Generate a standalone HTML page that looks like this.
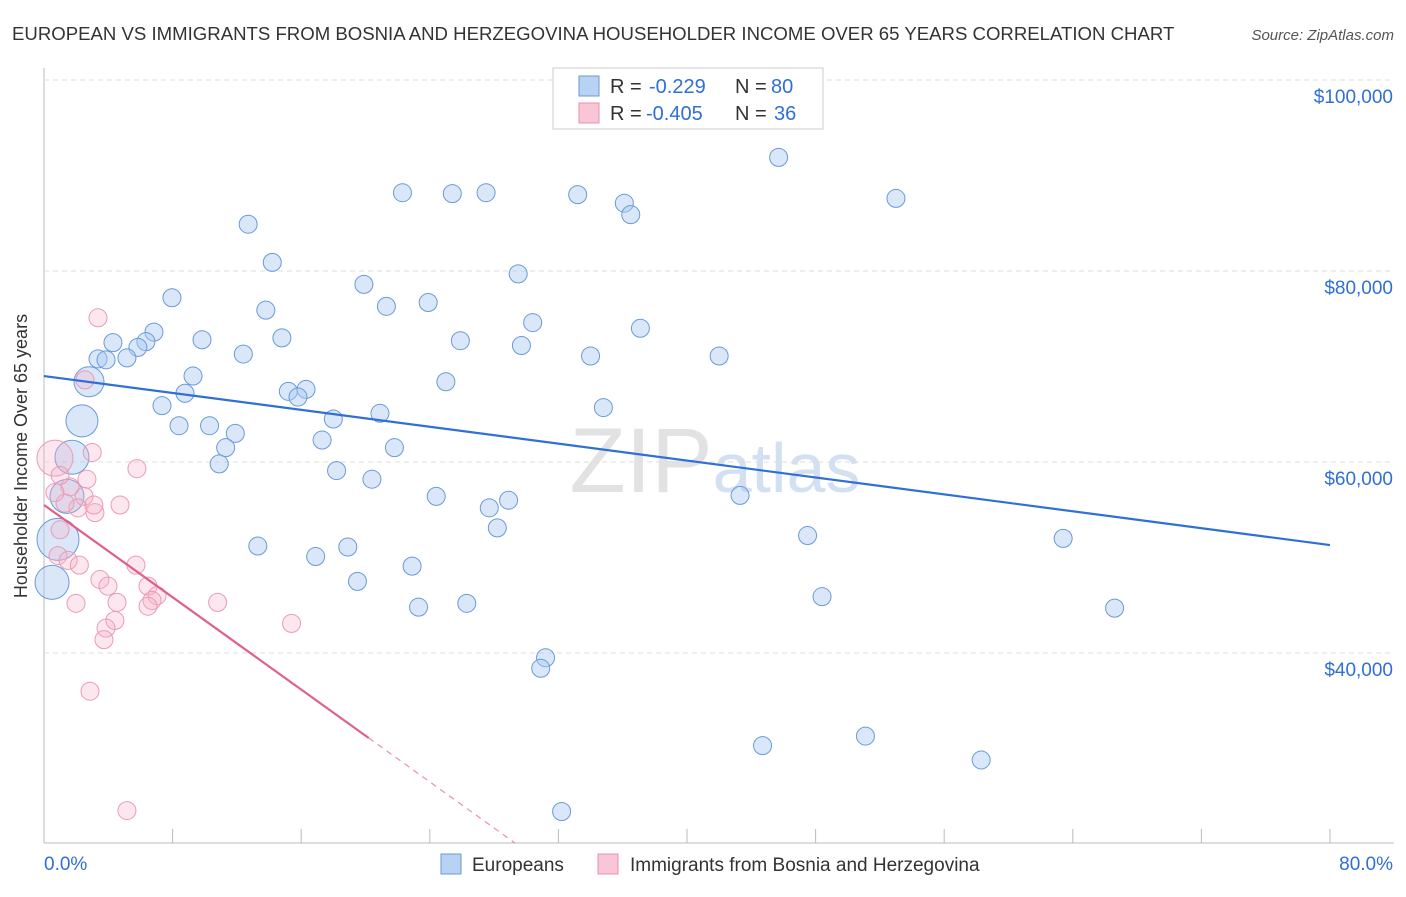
<!DOCTYPE html>
<html><head><meta charset="utf-8"><style>
body{margin:0;background:#fff;font-family:"Liberation Sans",sans-serif}
svg text{font-family:"Liberation Sans",sans-serif}
</style></head><body>
<svg id="c" width="1406" height="892" xmlns="http://www.w3.org/2000/svg">
<text x="12" y="40" font-size="18.6" fill="#333">EUROPEAN VS IMMIGRANTS FROM BOSNIA AND HERZEGOVINA HOUSEHOLDER INCOME OVER 65 YEARS CORRELATION CHART</text>
<text x="1394" y="40" font-size="15" fill="#555" text-anchor="end" font-style="italic">Source: ZipAtlas.com</text>
<text x="715" y="492" font-size="92" fill="#e2e2e2" text-anchor="middle" font-family="Liberation Serif">ZIP<tspan fill="#d3e0f2" font-family="Liberation Sans" font-size="70">atlas</tspan></text>
<g id="grid"></g><g id="pts"></g><g id="lines"></g>
<text x="27" y="456" font-size="18" fill="#333" text-anchor="middle" transform="rotate(-90 27 456)">Householder Income Over 65 years</text>
<g>
<rect x="553" y="68" width="270" height="61" fill="#fff" stroke="#ccc"/>
<rect x="579" y="76" width="20" height="20" fill="#b8d2f3" stroke="#6a9ad8"/>
<rect x="579" y="103" width="20" height="20" fill="#f8c6d6" stroke="#e890ab"/>
<text y="93" font-size="20" fill="#333"><tspan x="610">R =</tspan><tspan x="649" fill="#2f6fd6">-0.229</tspan><tspan x="735">N =</tspan><tspan x="771" fill="#2f6fd6">80</tspan></text>
<text y="120" font-size="20" fill="#333"><tspan x="610">R =</tspan><tspan x="646" fill="#2f6fd6">-0.405</tspan><tspan x="735">N =</tspan><tspan x="774" fill="#2f6fd6">36</tspan></text>
</g>
<g>
<rect x="441" y="854" width="20" height="20" fill="#b8d2f3" stroke="#6a9ad8"/>
<text x="472" y="871" font-size="19" fill="#333">Europeans</text>
<rect x="598" y="854" width="20" height="20" fill="#f8c6d6" stroke="#e890ab"/>
<text x="630" y="871" font-size="19" fill="#333">Immigrants from Bosnia and Herzegovina</text>
</g>
</svg>
<script>
const blueX=[45.7,22.3,25.4,27.5,33.2,36.1,36.5,53.0,12.7,14.2,29.5,19.9,7.96,13.8,21.3,23.9,30.4,37.1,6.84,9.83,14.8,25.9,29.7,6.34,4.29,5.84,3.36,3.86,5.16,12.4,34.0,42.0,2.8,9.27,25.0,8.77,15.2,16.3,15.8,7.34,20.9,34.8,18.0,2.36,8.4,10.3,11.9,17.3,1.74,11.3,21.8,10.9,18.2,20.4,24.4,28.9,43.3,27.7,28.2,1.43,47.5,63.4,13.3,18.9,0.87,16.9,22.9,19.5,0.5,48.4,26.3,23.3,66.6,31.2,30.9,44.7,51.1,58.3,32.2];
const blueY=[91.9,88.2,88.1,88.2,88.0,87.1,85.9,87.6,84.9,80.9,79.7,78.6,77.2,75.9,76.3,76.7,74.6,74.0,73.6,72.8,73.0,72.7,72.2,72.6,72.5,72.0,70.8,70.7,70.9,71.3,71.1,71.1,68.4,69.0,68.4,67.2,67.4,67.6,66.8,65.9,65.1,65.7,64.5,64.3,63.8,63.8,63.0,62.3,60.5,61.5,61.5,59.8,59.1,58.2,56.4,56.0,56.5,55.2,53.1,56.4,52.3,52.0,51.2,51.1,51.9,50.1,49.1,47.5,47.4,45.9,45.2,44.8,44.7,39.5,38.4,30.3,31.3,28.8,23.4];
const blueBig={32:15,43:16,48:17,59:17,64:21,68:17};
const pinkX=[3.36,2.55,3.0,5.78,0.68,2.67,2.49,1.62,1.0,4.73,3.17,2.11,1.31,3.1,1.0,0.87,1.5,2.2,3.48,5.72,3.98,6.47,7.03,6.72,1.99,4.54,10.8,6.47,4.41,15.4,3.86,3.73,2.86,5.16,0.68];
const pinkY=[75.1,68.6,61.0,59.3,60.4,58.2,56.4,57.4,58.6,55.5,54.7,55.2,55.7,55.5,52.9,50.2,49.7,49.2,47.7,49.2,47.0,47.0,46.0,45.5,45.2,45.3,45.3,44.9,43.4,43.1,42.6,41.4,36.0,23.5,56.8];
const pinkBig={4:18};
const yTicks=[40,60,80,100];
const yTickLabels=["$40,000","$60,000","$80,000","$100,000"];
const xTicks=[0,8,16,24,32,40,48,56,64,72,80];
const blueTrend=[[0,69.0],[80,51.3]];
const pinkTrend=[[0,55.5],[20.2,31.1],[29.3,20.1]];
const NS="http://www.w3.org/2000/svg";
const X=v=>44+v/80*1286, Y=v=>80+(100-v)*9.55;
function mk(t,a,p){const e=document.createElementNS(NS,t);for(const k in a)e.setAttribute(k,a[k]);p.appendChild(e);return e;}
const g=document.getElementById('grid');
const ax=mk('line',{x1:44,y1:68,x2:44,y2:843,stroke:'#bbb'},g);


const bx=mk('line',{x1:44,y1:843,x2:1394,y2:843,stroke:'#bbb'},g);


yTicks.forEach((v,i)=>{
 const l=mk('line',{x1:44,y1:Y(v),x2:1394,y2:Y(v),stroke:'#ddd','stroke-dasharray':'5,4'},g);
 
 
 const t=mk('text',{x:1393,y:Y(v)+23,'font-size':19,fill:'#2f6fd6','text-anchor':'end'},g);
 t.textContent=yTickLabels[i];
 
 
});
xTicks.forEach(v=>{
 const l=mk('line',{x1:X(v),y1:829,x2:X(v),y2:843,stroke:'#bbb'},g);
 
 
});
const t0=mk('text',{x:44,y:870,'font-size':19,fill:'#2f6fd6'},g);t0.textContent='0.0%';


const t1=mk('text',{x:1393,y:870,'font-size':19,fill:'#2f6fd6','text-anchor':'end'},g);t1.textContent='80.0%';


const p=document.getElementById('pts');
blueX.forEach((x,i)=>{
 const c=mk('circle',{cx:X(x),cy:Y(blueY[i]),r:blueBig[i]||9,fill:'rgba(170,202,242,0.45)',stroke:'#6a9ad8','stroke-width':1},p);
 
 
});
pinkX.forEach((x,i)=>{
 const c=mk('circle',{cx:X(x),cy:Y(pinkY[i]),r:pinkBig[i]||9,fill:'rgba(245,175,198,0.3)',stroke:'#eb9bb4','stroke-width':1},p);
 
 
});
const L=document.getElementById('lines');
const bl=mk('line',{x1:X(blueTrend[0][0]),y1:Y(blueTrend[0][1]),x2:X(blueTrend[1][0]),y2:Y(blueTrend[1][1]),stroke:'#2f6fd6','stroke-width':2.2},L);


const pl=mk('line',{x1:X(pinkTrend[0][0]),y1:Y(pinkTrend[0][1]),x2:X(pinkTrend[1][0]),y2:Y(pinkTrend[1][1]),stroke:'#e0608a','stroke-width':2.2},L);


const pd=mk('line',{x1:X(pinkTrend[1][0]),y1:Y(pinkTrend[1][1]),x2:X(pinkTrend[2][0]),y2:Y(pinkTrend[2][1]),stroke:'#e890ab','stroke-width':1.2,'stroke-dasharray':'6,5'},L);


</script>
</body></html>
